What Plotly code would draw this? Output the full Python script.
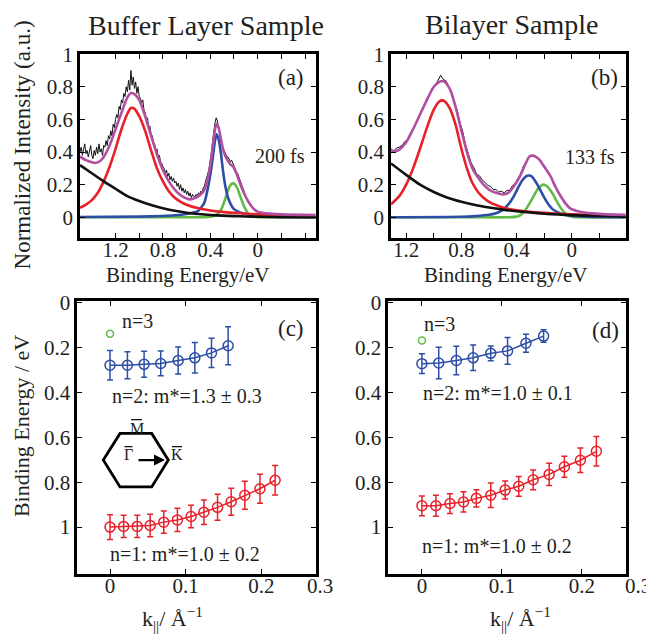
import numpy as np
import plotly.graph_objects as go

W, H = 646, 637
FONT = "Liberation Serif"
INK = "#231f20"

# ---------------- Panel (a): buffer layer spectrum ----------------
A_DATA_RANGE = (1.50, -0.15)
A_DATA = [0.40, 0.43, 0.38, 0.42, 0.45, 0.39, 0.41, 0.37, 0.40, 0.44, 0.38,
          0.36, 0.41, 0.38, 0.43, 0.39, 0.45, 0.40, 0.42, 0.38, 0.44,
          0.43, 0.47, 0.44, 0.50, 0.48, 0.53, 0.50, 0.57, 0.55, 0.60,
          0.63, 0.61, 0.68, 0.66, 0.72, 0.70, 0.76, 0.74, 0.80, 0.77,
          0.84, 0.78, 0.90, 0.81, 0.86, 0.79, 0.83, 0.76, 0.80, 0.74,
          0.73, 0.70, 0.72, 0.66, 0.64, 0.60, 0.61, 0.55, 0.56, 0.51,
          0.50, 0.46, 0.45, 0.41, 0.42, 0.37, 0.38, 0.34, 0.33, 0.31,
          0.30, 0.27, 0.29, 0.25, 0.27, 0.23, 0.25, 0.22, 0.24, 0.21,
          0.22, 0.19, 0.21, 0.17, 0.20, 0.16, 0.18, 0.15, 0.17, 0.14,
          0.16, 0.13, 0.15, 0.12, 0.14, 0.13, 0.12, 0.14, 0.13, 0.15,
          0.14, 0.16, 0.15, 0.18, 0.19, 0.22, 0.24, 0.27, 0.30, 0.34,
          0.40, 0.47, 0.53, 0.58, 0.61, 0.59, 0.55, 0.50, 0.47, 0.44,
          0.42, 0.40, 0.38, 0.37, 0.37, 0.35, 0.34, 0.35, 0.33, 0.32,
          0.30, 0.28, 0.27, 0.25, 0.22, 0.21, 0.18, 0.16, 0.14, 0.12,
          0.11, 0.09, 0.08, 0.07, 0.06, 0.05, 0.045, 0.04, 0.035, 0.03,
          0.03, 0.028, 0.025, 0.024, 0.022, 0.02, 0.02, 0.019, 0.018, 0.018,
          0.017, 0.016, 0.016, 0.015, 0.015]

A_BG_E = [1.5, 1.4, 1.3, 1.2, 1.1, 1.0, 0.9, 0.8, 0.7, 0.6, 0.5, 0.4, 0.3, 0.2, 0.1, 0.0, -0.2, -0.49]
A_BG_I = [0.32, 0.27, 0.22, 0.175, 0.13, 0.10, 0.075, 0.055, 0.04, 0.028, 0.02, 0.014, 0.01, 0.007, 0.005, 0.003, 0.001, 0.0]

A_RED_E = [1.50, 1.45, 1.40, 1.35, 1.30, 1.25, 1.20, 1.15, 1.10, 1.07, 1.04, 1.00, 0.95, 0.90,
           0.85, 0.80, 0.75, 0.70, 0.65, 0.60, 0.50, 0.40, 0.30, 0.20, 0.10, 0.00, -0.20, -0.49]
A_RED_I = [0.058, 0.078, 0.105, 0.15, 0.22, 0.31, 0.42, 0.54, 0.635, 0.67, 0.665, 0.62, 0.53, 0.41,
           0.30, 0.22, 0.16, 0.12, 0.095, 0.077, 0.055, 0.042, 0.033, 0.027, 0.022, 0.018, 0.012, 0.008]

A_BLUE_E = [1.50, 1.00, 0.80, 0.70, 0.60, 0.55, 0.50, 0.45, 0.42, 0.40, 0.38, 0.36, 0.347, 0.33,
            0.31, 0.29, 0.27, 0.25, 0.22, 0.20, 0.15, 0.10, 0.05, 0.00, -0.20, -0.49]
A_BLUE_I = [0.002, 0.004, 0.008, 0.012, 0.02, 0.028, 0.04, 0.09, 0.18, 0.26, 0.36, 0.47, 0.509, 0.48,
            0.39, 0.27, 0.18, 0.12, 0.07, 0.05, 0.03, 0.02, 0.012, 0.008, 0.003, 0.001]

A_GREEN_E = [1.50, 1.00, 0.60, 0.45, 0.40, 0.35, 0.32, 0.30, 0.28, 0.26, 0.24, 0.22, 0.207, 0.19,
             0.17, 0.15, 0.13, 0.11, 0.09, 0.07, 0.05, 0.00, -0.20, -0.49]
A_GREEN_I = [0.0, 0.0, 0.0, 0.0, 0.003, 0.015, 0.035, 0.06, 0.10, 0.145, 0.185, 0.205, 0.208, 0.20,
             0.175, 0.135, 0.095, 0.06, 0.033, 0.016, 0.007, 0.001, 0.0, 0.0]

A_FIT_E = [1.50, 1.45, 1.40, 1.37, 1.33, 1.30, 1.25, 1.20, 1.15, 1.10, 1.07, 1.04, 1.00,
           0.95, 0.90, 0.85, 0.80, 0.75, 0.70, 0.65, 0.60, 0.57, 0.52, 0.46, 0.43, 0.40, 0.38,
           0.36, 0.347, 0.33, 0.31, 0.29, 0.27, 0.25, 0.23, 0.207, 0.18, 0.15, 0.12, 0.093,
           0.06, 0.037, 0.00, -0.076, -0.20, -0.49]
A_FIT_I = [0.372, 0.35, 0.337, 0.333, 0.345, 0.37, 0.44, 0.54, 0.64, 0.735, 0.762, 0.755, 0.72,
           0.62, 0.50, 0.385, 0.29, 0.22, 0.17, 0.135, 0.115, 0.11, 0.12, 0.155, 0.21, 0.32, 0.43,
           0.54, 0.573, 0.55, 0.48, 0.41, 0.37, 0.345, 0.325, 0.31, 0.27, 0.21, 0.155, 0.114,
           0.075, 0.054, 0.035, 0.024, 0.018, 0.014]

# ---------------- Panel (b): bilayer spectrum ----------------
B_DATA_RANGE = (1.31, 0.01)
B_DATA = [0.42, 0.405, 0.425, 0.43, 0.44, 0.465, 0.475, 0.515, 0.54, 0.575,
          0.605, 0.655, 0.68, 0.725, 0.755, 0.795, 0.805, 0.84, 0.87, 0.845,
          0.835, 0.795, 0.765, 0.705, 0.655, 0.58, 0.525, 0.445, 0.395, 0.335,
          0.305, 0.265, 0.255, 0.23, 0.215, 0.195, 0.19, 0.17, 0.17, 0.155,
          0.16, 0.15, 0.165, 0.165, 0.195, 0.205, 0.24, 0.265, 0.315, 0.34,
          0.375, 0.38, 0.38, 0.36, 0.355, 0.325, 0.305, 0.265, 0.245, 0.195,
          0.17, 0.135, 0.115, 0.08, 0.07, 0.05]

B_BG_E = [1.31, 1.2, 1.1, 1.0, 0.9, 0.8, 0.7, 0.6, 0.5, 0.4, 0.3, 0.2, 0.1, 0.0, -0.2, -0.39]
B_BG_I = [0.33, 0.26, 0.20, 0.155, 0.12, 0.095, 0.075, 0.06, 0.047, 0.037, 0.029, 0.022, 0.017, 0.013, 0.008, 0.005]

B_RED_E = [1.31, 1.25, 1.20, 1.15, 1.10, 1.05, 1.00, 0.96, 0.94, 0.92, 0.88, 0.84, 0.80, 0.76,
           0.72, 0.68, 0.64, 0.60, 0.55, 0.50, 0.40, 0.30, 0.20, 0.10, 0.00, -0.20, -0.39]
B_RED_I = [0.08, 0.13, 0.20, 0.30, 0.42, 0.55, 0.66, 0.71, 0.717, 0.71, 0.66, 0.56, 0.42, 0.30,
           0.21, 0.155, 0.12, 0.095, 0.075, 0.06, 0.043, 0.033, 0.027, 0.022, 0.018, 0.012, 0.009]

B_BLUE_E = [1.31, 0.80, 0.70, 0.60, 0.55, 0.50, 0.45, 0.42, 0.39, 0.36, 0.33, 0.31, 0.29, 0.26,
            0.23, 0.20, 0.17, 0.14, 0.10, 0.05, 0.00, -0.10, -0.39]
B_BLUE_I = [0.0, 0.003, 0.007, 0.015, 0.025, 0.045, 0.09, 0.13, 0.18, 0.225, 0.252, 0.256, 0.25, 0.215,
            0.17, 0.12, 0.08, 0.05, 0.03, 0.016, 0.009, 0.004, 0.001]

B_GREEN_E = [1.31, 0.80, 0.45, 0.40, 0.37, 0.34, 0.31, 0.28, 0.25, 0.22, 0.206, 0.18, 0.15, 0.12,
             0.09, 0.06, 0.03, 0.00, -0.05, -0.39]
B_GREEN_I = [0.0, 0.0, 0.0, 0.004, 0.015, 0.04, 0.08, 0.125, 0.17, 0.195, 0.20, 0.19, 0.16, 0.115,
             0.07, 0.035, 0.013, 0.004, 0.0, 0.0]

B_FIT_E = [1.31, 1.28, 1.25, 1.20, 1.15, 1.10, 1.05, 1.00, 0.96, 0.94, 0.92, 0.88, 0.84, 0.80,
           0.76, 0.72, 0.68, 0.64, 0.60, 0.55, 0.50, 0.46, 0.42, 0.38, 0.34, 0.31, 0.29, 0.26,
           0.23, 0.20, 0.157, 0.12, 0.085, 0.05, 0.012, -0.06, -0.15, -0.25, -0.39]
B_FIT_I = [0.41, 0.405, 0.415, 0.46, 0.54, 0.63, 0.72, 0.80, 0.83, 0.836, 0.83, 0.78, 0.67, 0.53,
           0.40, 0.30, 0.245, 0.20, 0.17, 0.15, 0.14, 0.15, 0.19, 0.245, 0.32, 0.37, 0.378, 0.37,
           0.347, 0.31, 0.256, 0.19, 0.135, 0.09, 0.055, 0.034, 0.024, 0.018, 0.015]

# ---------------- Panels (c), (d): dispersions ----------------
C_RED_K = [0, 0.018, 0.036, 0.053, 0.071, 0.089, 0.107, 0.124, 0.142, 0.160, 0.178, 0.198, 0.218]
C_RED_E = [1.0, 0.997, 0.997, 0.993, 0.978, 0.968, 0.953, 0.934, 0.912, 0.887, 0.858, 0.829, 0.791]
C_RED_ERR = [0.055, 0.05, 0.05, 0.05, 0.05, 0.052, 0.05, 0.055, 0.058, 0.06, 0.062, 0.065, 0.066]
C_BLUE_K = [0, 0.023, 0.045, 0.067, 0.090, 0.112, 0.134, 0.156]
C_BLUE_E = [0.278, 0.278, 0.274, 0.27, 0.257, 0.245, 0.223, 0.191]
C_BLUE_ERR = [0.066, 0.06, 0.058, 0.055, 0.06, 0.068, 0.065, 0.085]
C_GREEN_K = [0]
C_GREEN_E = [0.137]

D_RED_K = [0, 0.0175, 0.035, 0.052, 0.068, 0.086, 0.104, 0.121, 0.139, 0.159, 0.178, 0.198, 0.218]
D_RED_E = [0.905, 0.905, 0.895, 0.888, 0.872, 0.858, 0.835, 0.818, 0.789, 0.765, 0.731, 0.702, 0.662]
D_RED_ERR = [0.044, 0.047, 0.044, 0.045, 0.038, 0.055, 0.04, 0.044, 0.044, 0.05, 0.047, 0.055, 0.066]
D_BLUE_K = [0, 0.021, 0.043, 0.064, 0.086, 0.107, 0.130, 0.152]
D_BLUE_E = [0.271, 0.268, 0.257, 0.245, 0.225, 0.214, 0.18, 0.148]
D_BLUE_ERR = [0.044, 0.07, 0.064, 0.057, 0.033, 0.06, 0.04, 0.028]
D_GREEN_K = [0]
D_GREEN_E = [0.168]

# tick labels
E_TICKS = [1.2, 0.8, 0.4, 0.0]
E_TICKTEXT = ["1.2", "0.8", "0.4", "0"]
E_MINOR_TICKS = [1.0, 0.6, 0.2, -0.2, -0.4]
I_TICKS = [0, 0.2, 0.4, 0.6, 0.8, 1.0]
I_TICKTEXT = ["0", "0.2", "0.4", "0.6", "0.8", "1"]
BE_TICKS = [0, 0.2, 0.4, 0.6, 0.8, 1.0]
BE_TICKTEXT = ["0", "0.2", "0.4", "0.6", "0.8", "1"]
K_TICKS = [0, 0.1, 0.2, 0.3]
K_TICKTEXT = ["0", "0.1", "0.2", "0.3"]

# ---------------- colours ----------------
RED = "#e8202a"
BLUE = "#2c4ea6"
GREEN = "#62bb46"
PURPLE = "#b24fa0"
BLACK = "#111111"


def px(x):
    return x / W


def py(y):
    return 1 - y / H


fig = go.Figure()


def spectrum(xa, ya, data_range, data, comps, fit):
    e = np.linspace(data_range[0], data_range[1], len(data))
    fig.add_trace(go.Scatter(x=e, y=data, mode="lines", line=dict(color=BLACK, width=1),
                             xaxis=xa, yaxis=ya, hoverinfo="skip"))
    for (ex, iy, col) in comps:
        fig.add_trace(go.Scatter(x=ex, y=iy, mode="lines",
                                 line=dict(color=col, width=2.6, shape="spline", smoothing=0.6),
                                 xaxis=xa, yaxis=ya))
    fig.add_trace(go.Scatter(x=fit[0], y=fit[1], mode="lines",
                             line=dict(color=PURPLE, width=2.6, shape="spline", smoothing=0.6),
                             xaxis=xa, yaxis=ya))


spectrum("x", "y", A_DATA_RANGE, A_DATA,
         [(A_GREEN_E, A_GREEN_I, GREEN), (A_BLUE_E, A_BLUE_I, BLUE),
          (A_RED_E, A_RED_I, RED), (A_BG_E, A_BG_I, BLACK)],
         (A_FIT_E, A_FIT_I))
spectrum("x2", "y2", B_DATA_RANGE, B_DATA,
         [(B_GREEN_E, B_GREEN_I, GREEN), (B_BLUE_E, B_BLUE_I, BLUE),
          (B_RED_E, B_RED_I, RED), (B_BG_E, B_BG_I, BLACK)],
         (B_FIT_E, B_FIT_I))


def dispersion(xa, ya, rk, re, rerr, bk, be, berr, gk, ge):
    for (k, e, err, col) in [(bk, be, berr, BLUE), (rk, re, rerr, RED)]:
        fig.add_trace(go.Scatter(
            x=k, y=e, mode="lines+markers",
            line=dict(color=col, width=1.5),
            marker=dict(symbol="circle-open", size=10, color=col, line=dict(width=1.5, color=col)),
            error_y=dict(type="data", array=err, color=col, thickness=1.5, width=3),
            xaxis=xa, yaxis=ya))
    fig.add_trace(go.Scatter(x=gk, y=ge, mode="markers",
                             marker=dict(symbol="circle-open", size=7, color=GREEN,
                                         line=dict(width=1.5, color=GREEN)),
                             xaxis=xa, yaxis=ya))


dispersion("x3", "y3", C_RED_K, C_RED_E, C_RED_ERR, C_BLUE_K, C_BLUE_E, C_BLUE_ERR, C_GREEN_K, C_GREEN_E)
dispersion("x4", "y4", D_RED_K, D_RED_E, D_RED_ERR, D_BLUE_K, D_BLUE_E, D_BLUE_ERR, D_GREEN_K, D_GREEN_E)

axis_common = dict(showline=True, linewidth=2.8, linecolor="black", mirror="ticks",
                   ticks="inside", ticklen=5, tickwidth=1.2, tickcolor="black",
                   showgrid=False, zeroline=False,
                   tickfont=dict(family=FONT, size=21, color=INK))
x_common = dict(ticklabelstandoff=-9, **axis_common)
minor_e = dict(tickvals=E_MINOR_TICKS, ticks="inside", ticklen=5, tickwidth=1.2,
               tickcolor="black", showgrid=False)

# geometry of the plot frames (pixels)
FA = (80, 315.7, 43, 230)
FB = (391, 625.7, 43, 230)
FC = (77.3, 316, 295, 572.7)
FD = (388.3, 626, 295, 572.7)


def dom(f):
    return [px(f[0]), px(f[1])], [py(f[3]), py(f[2])]


xa_d, ya_d = dom(FA)
xb_d, yb_d = dom(FB)
xc_d, yc_d = dom(FC)
xd_d, yd_d = dom(FD)

fig.update_layout(
    width=W, height=H, margin=dict(l=0, r=0, t=0, b=0),
    paper_bgcolor="white", plot_bgcolor="white", showlegend=False,
    font=dict(family=FONT, size=21, color=INK),
    xaxis=dict(domain=xa_d, anchor="y", range=[1.50, -0.49], tickvals=E_TICKS, ticktext=E_TICKTEXT,
               minor=minor_e, **x_common),
    yaxis=dict(domain=ya_d, anchor="x", range=[-0.125, 1.0], tickvals=I_TICKS, ticktext=I_TICKTEXT, **axis_common),
    xaxis2=dict(domain=xb_d, anchor="y2", range=[1.31, -0.39], tickvals=E_TICKS, ticktext=E_TICKTEXT,
                minor=minor_e, **x_common),
    yaxis2=dict(domain=yb_d, anchor="x2", range=[-0.125, 1.0], tickvals=I_TICKS, ticktext=I_TICKTEXT, **axis_common),
    xaxis3=dict(domain=xc_d, anchor="y3", range=[-0.0432, 0.272], tickvals=K_TICKS[:3], ticktext=K_TICKTEXT[:3], **x_common),
    yaxis3=dict(domain=yc_d, anchor="x3", range=[1.209, -0.0066], tickvals=BE_TICKS, ticktext=BE_TICKTEXT, **axis_common),
    xaxis4=dict(domain=xd_d, anchor="y4", range=[-0.042, 0.255], tickvals=K_TICKS[:3], ticktext=K_TICKTEXT[:3], **x_common),
    yaxis4=dict(domain=yd_d, anchor="x4", range=[1.209, -0.0066], tickvals=BE_TICKS, ticktext=BE_TICKTEXT, **axis_common),
)

ann = []


def text(x, y, s, size=21, angle=0, xanchor="center"):
    ann.append(dict(x=px(x), y=py(y), xref="paper", yref="paper", text=s, showarrow=False,
                    font=dict(family=FONT, size=size, color=INK), textangle=angle,
                    xanchor=xanchor, yanchor="middle"))


text(206, 14, "Buffer Layer Sample", 28)
text(511, 13, "Bilayer Sample", 28)
text(22, 136, "Normalized Intensity (a.u.)", 23, -90)
text(188, 268, "Binding Energy/eV", 21)
text(506, 268, "Binding Energy/eV", 21)
text(291, 67, "(a)", 23)
text(604, 67, "(b)", 23)
text(280, 147, "200 fs", 20)
text(590, 148, "133 fs", 20)
text(21, 422, "Binding Energy / eV", 22, -90)
text(172, 618, "k<sub>||</sub>/ Å<sup>−1</sup>", 22)
text(520, 618, "k<sub>||</sub>/ Å<sup>−1</sup>", 22)
text(291, 323, "(c)", 23)
text(605, 325, "(d)", 23)
text(137, 315, "n=3", 20)
text(439, 318, "n=3", 20)
text(187, 391, "n=2: m*=1.3 ± 0.3", 20)
text(498, 388, "n=2: m*=1.0 ± 0.1", 20)
text(185, 552, "n=1: m*=1.0 ± 0.2", 20)
text(497, 544, "n=1: m*=1.0 ± 0.2", 20)
# the hand-placed "0.3" tick labels beyond the frames
text(320, 585, K_TICKTEXT[3], 21)
text(638, 585, K_TICKTEXT[3], 21)
# Brillouin-zone inset letters (bars drawn as shapes below)
text(136.5, 424, "M", 16)
text(128.5, 451, "\u0393", 16)
text(177, 451, "K", 16)
ann.append(dict(x=px(165), y=py(456.7), ax=-28, ay=0, xref="paper", yref="paper",
                axref="pixel", ayref="pixel", text="", showarrow=True, arrowhead=2,
                arrowsize=1, arrowwidth=2.2, arrowcolor="black"))
fig.update_layout(annotations=ann)

hexv = [(103.3, 456.7), (120, 429.5), (151.7, 429.5), (168.3, 456.7), (151.7, 484), (120, 484)]
path = "M " + " L ".join(f"{px(a):.5f},{py(b):.5f}" for a, b in hexv) + " Z"
fig.add_shape(type="path", path=path, xref="paper", yref="paper",
              line=dict(color="black", width=2.8))
for (x0, x1, yb) in [(131, 142, 415.5), (124.5, 132.5, 443), (172, 182, 443)]:
    fig.add_shape(type="line", x0=px(x0), x1=px(x1), y0=py(yb), y1=py(yb),
                  xref="paper", yref="paper", line=dict(color="black", width=1.2))

fig.write_html("out.html", config={"displayModeBar": False},
               post_script="document.body.style.margin='0px';")
